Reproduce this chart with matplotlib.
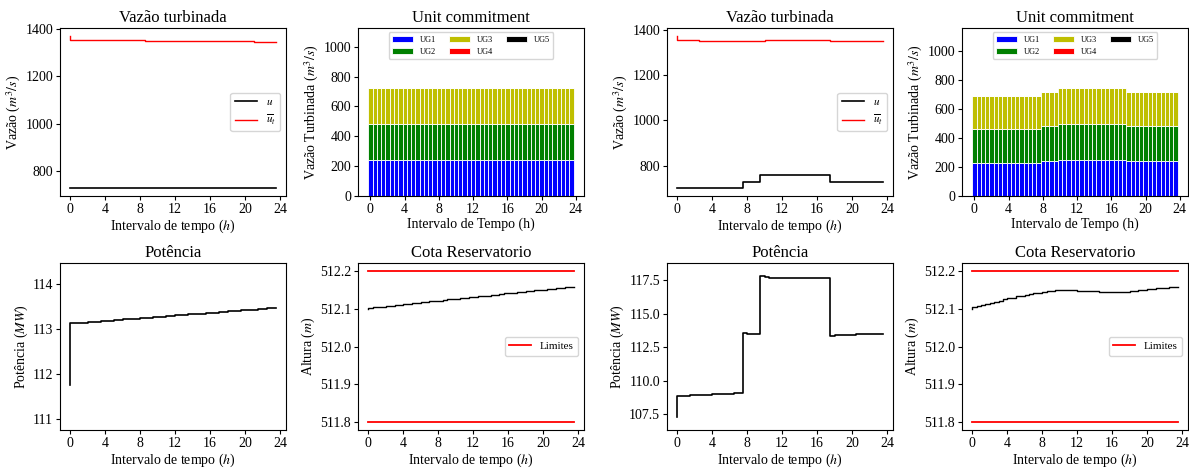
import numpy as np
import matplotlib
matplotlib.use('Agg')
import matplotlib.pyplot as plt

plt.rcParams['font.family'] = 'serif'
plt.rcParams['font.serif'] = ['Liberation Serif', 'DejaVu Serif']
plt.rcParams['mathtext.fontset'] = 'stix'

# half-hour intervals, 0 .. 23.5 h
tempo = np.arange(48) * 0.5

# ---------------- case A (left block) ----------------
uA = [727] * 48
ubarA = [1372] + [1352] * 17 + [1348] * 25 + [1345] * 5
ug1A = [242] * 48
ug2A = [242] * 48
ug3A = [242] * 48
ug4A = [0] * 48
ug5A = [0] * 48
potA = [111.75, 113.13, 113.14, 113.14, 113.15, 113.16, 113.16, 113.17,
        113.18, 113.19, 113.19, 113.20, 113.21, 113.22, 113.22, 113.23,
        113.24, 113.25, 113.25, 113.26, 113.27, 113.28, 113.28, 113.29,
        113.30, 113.31, 113.31, 113.32, 113.33, 113.34, 113.34, 113.35,
        113.36, 113.37, 113.37, 113.38, 113.39, 113.40, 113.40, 113.41,
        113.42, 113.43, 113.43, 113.44, 113.45, 113.46, 113.47, 113.48]
cotaA = [512.100, 512.101, 512.103, 512.104, 512.105, 512.107, 512.108, 512.109,
         512.110, 512.112, 512.113, 512.114, 512.115, 512.117, 512.118, 512.119,
         512.120, 512.121, 512.123, 512.124, 512.125, 512.126, 512.127, 512.129,
         512.130, 512.131, 512.132, 512.133, 512.134, 512.136, 512.137, 512.138,
         512.140, 512.141, 512.142, 512.143, 512.144, 512.145, 512.146, 512.148,
         512.149, 512.150, 512.151, 512.152, 512.154, 512.155, 512.156, 512.158]

# ---------------- case B (right block) ----------------
uB = [700] * 16 + [730] * 4 + [758] * 16 + [728] * 12
ubarB = [1374] + [1356] * 5 + [1352] * 15 + [1355] * 15 + [1352] * 12
ug1B = [227] * 16 + [241] * 4 + [249] * 16 + [241] * 12
ug2B = [236] * 16 + [240] * 4 + [252] * 16 + [240] * 12
ug3B = [228] * 16 + [242] * 4 + [249] * 16 + [239] * 12
ug4B = [0] * 48
ug5B = [0] * 48
potB = [107.30,
        108.85, 108.87, 108.88, 108.89, 108.90, 108.92, 108.93, 108.94,
        108.96, 108.97, 108.98, 109.00, 109.02, 109.04, 109.07,
        113.55, 113.45, 113.45, 113.45,
        117.80, 117.72, 117.68, 117.66, 117.65, 117.65, 117.65, 117.65,
        117.65, 117.65, 117.65, 117.65, 117.65, 117.65, 117.65, 117.65,
        113.30, 113.42, 113.42, 113.42, 113.43, 113.43, 113.46, 113.47,
        113.47, 113.48, 113.48, 113.49]
cotaB = [512.100, 512.103, 512.106, 512.109, 512.112, 512.115, 512.118, 512.121,
         512.124, 512.127, 512.129, 512.132, 512.134, 512.136, 512.138, 512.140,
         512.142, 512.144, 512.146, 512.147, 512.148, 512.148, 512.148, 512.148,
         512.148, 512.147, 512.146, 512.146, 512.145, 512.145, 512.144, 512.144,
         512.144, 512.144, 512.144, 512.144, 512.144, 512.146, 512.147, 512.148,
         512.150, 512.151, 512.152, 512.153, 512.154, 512.155, 512.156, 512.157]

cotaMin = 511.8
cotaMax = 512.2

ugNames = ['UG1', 'UG2', 'UG3', 'UG4', 'UG5']
ugColors = ['b', 'g', 'y', 'r', 'k']

W, H = 1189.0, 468.0
colsPx = [(60, 286), (358, 584), (667, 893), (962, 1188)]
rowsPx = [(28, 196), (263, 430)]

TITLE = 12
LAB = 10
TICK = 10


def box(col, row):
  x0, x1 = colsPx[col]
  y0, y1 = rowsPx[row]
  return [x0 / W, 1 - y1 / H, (x1 - x0) / W, (y1 - y0) / H]


def labels(ax, title, ylab, xlab):
  ax.set_title(title, fontsize=TITLE, pad=4)
  ax.set_ylabel(ylab, fontsize=LAB, labelpad=2)
  ax.set_xlabel(xlab, fontsize=LAB, labelpad=1)
  ax.set_xticks(range(0, 25, 4))
  ax.tick_params(labelsize=TICK, length=3, pad=2)


def plotVazao(ax, u, ubar):
  ax.step(tempo, u, color='k', lw=1.2, label='$u$')
  ax.step(tempo, ubar, color='r', lw=1.0, label=r'$\overline{u}_t$')
  labels(ax, 'Vazão turbinada', 'Vazão ($m^3/s$)', 'Intervalo de tempo ($h$)')
  ax.legend(loc='center right', fontsize=8)


def plotUC(ax, ugs):
  bottom = np.zeros(len(tempo))
  for vals, name, c in zip(ugs, ugNames, ugColors):
    ax.bar(tempo, vals, width=0.5, bottom=bottom, color=c,
           edgecolor='white', linewidth=0.6, label=name)
    bottom = bottom + np.array(vals)
  ax.set_ylim(0, 1.55 * bottom.max())
  labels(ax, 'Unit commitment', 'Vazão Turbinada ($m^3/s$)', 'Intervalo de Tempo (h)')
  ax.legend(loc='upper center', ncol=3, fontsize=6, handlelength=2.5,
            columnspacing=1.6)


def plotPotencia(ax, pot, ticks, tickLabels):
  ax.step(tempo, pot, color='k', lw=1.2)
  ax.set_ylim(min(pot) - 1, max(pot) + 1)
  ax.set_yticks(ticks)
  ax.set_yticklabels(tickLabels)
  labels(ax, 'Potência', 'Potência ($MW$)', 'Intervalo de tempo ($h$)')


def plotCota(ax, cota):
  ax.step(tempo, cota, color='k', lw=1.0)
  ax.plot([tempo[0], tempo[-1]], [cotaMax, cotaMax], color='r', lw=1.3, label='Limites')
  ax.plot([tempo[0], tempo[-1]], [cotaMin, cotaMin], color='r', lw=1.3)
  ax.set_yticks([511.8, 511.9, 512.0, 512.1, 512.2])
  ax.set_yticklabels(['511.8', '511.9', '512.0', '512.1', '512.2'])
  labels(ax, 'Cota Reservatorio', 'Altura ($m$)', 'Intervalo de tempo ($h$)')
  ax.legend(loc='center right', fontsize=8)


fig = plt.figure(figsize=(W / 100, H / 100), dpi=100)

sets = [
  (0, uA, ubarA, [ug1A, ug2A, ug3A, ug4A, ug5A], potA, cotaA,
   [111, 112, 113, 114], ['111', '112', '113', '114']),
  (2, uB, ubarB, [ug1B, ug2B, ug3B, ug4B, ug5B], potB, cotaB,
   [107.5, 110.0, 112.5, 115.0, 117.5], ['107.5', '110.0', '112.5', '115.0', '117.5']),
]

for c0, u, ubar, ugs, pot, cota, potTicks, potLabels in sets:
  plotVazao(fig.add_axes(box(c0, 0)), u, ubar)
  plotUC(fig.add_axes(box(c0 + 1, 0)), ugs)
  plotPotencia(fig.add_axes(box(c0, 1)), pot, potTicks, potLabels)
  plotCota(fig.add_axes(box(c0 + 1, 1)), cota)

fig.savefig('out.png', dpi=100)
